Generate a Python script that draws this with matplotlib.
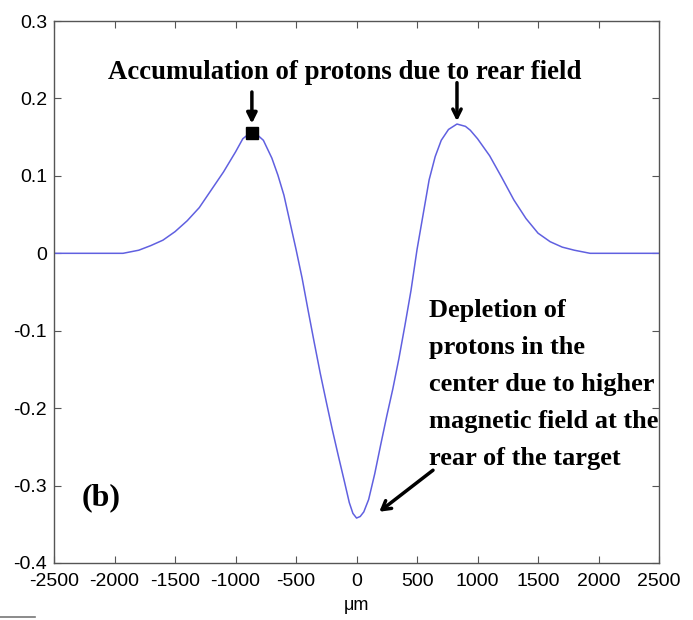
import matplotlib
matplotlib.use("Agg")
import matplotlib.pyplot as plt
from matplotlib.lines import Line2D

# profile (x in um)
x_um = [-2500, -2000, -1930, -1800, -1700, -1600, -1500, -1400, -1300, -1200,
        -1100, -1000, -940, -900, -865, -820, -770, -700, -650, -600,
        -550, -500, -450, -400, -350, -300, -250, -200, -150, -100,
        -60, -30, 0, 30, 60, 100, 150, 200, 250, 300,
        350, 400, 450, 500, 550, 600, 650, 700, 760, 830,
        900, 940, 1000, 1100, 1200, 1300, 1400, 1500, 1600, 1700,
        1800, 1930, 2000, 2500]
signal = [0.0, 0.0, 0.0, 0.004, 0.010, 0.017, 0.028, 0.042, 0.059, 0.082,
          0.105, 0.131, 0.148, 0.153, 0.156, 0.153, 0.146, 0.123, 0.101, 0.075,
          0.040, 0.005, -0.032, -0.074, -0.115, -0.155, -0.192, -0.228, -0.262, -0.295,
          -0.322, -0.336, -0.342, -0.340, -0.334, -0.318, -0.285, -0.247, -0.210, -0.175,
          -0.136, -0.093, -0.048, 0.005, 0.050, 0.095, 0.125, 0.146, 0.160, 0.167,
          0.164, 0.159, 0.148, 0.126, 0.098, 0.069, 0.045, 0.026, 0.015, 0.008,
          0.004, 0.0, 0.0, 0.0]

x_ticks = [-2500, -2000, -1500, -1000, -500, 0, 500, 1000, 1500, 2000, 2500]
y_ticks = [-0.4, -0.3, -0.2, -0.1, 0, 0.1, 0.2, 0.3]
y_tick_labels = ["-0.4", "-0.3", "-0.2", "-0.1", "0", "0.1", "0.2", "0.3"]

left_peak = (-865, 0.156)
right_peak = (830, 0.167)
trough = (0, -0.342)

SERIF = "Liberation Serif"
SANS = "Liberation Sans"


def main():
    fig = plt.figure(figsize=(6.93, 6.20), dpi=100)
    ax = fig.add_axes([0.078, 0.092, 0.873, 0.874])

    ax.plot(x_um, signal, color="#6060e0", lw=1.1)
    ax.plot(*left_peak, marker="s", ms=8, color="black")

    ax.set_xlim(-2500, 2500)
    ax.set_ylim(-0.4, 0.3)
    ax.set_xticks(x_ticks)
    ax.set_xticklabels([str(t) for t in x_ticks], fontfamily=SANS, fontsize=14)
    ax.set_yticks(y_ticks)
    ax.set_yticklabels(y_tick_labels, fontfamily=SANS, fontsize=14)
    ax.tick_params(direction="in", length=5, top=True, right=True, color="#555555")
    ax.tick_params(axis="x", pad=7)
    ax.tick_params(axis="y", pad=5)
    for s in ax.spines.values():
        s.set_color("#555555")
        s.set_linewidth(1.0)
    ax.set_xlabel("μm", fontfamily=SANS, fontsize=13, labelpad=5)

    ax.text(0.48, 0.905, "Accumulation of protons due to rear field", transform=ax.transAxes,
            ha="center", va="center", fontfamily=SERIF, fontweight="bold", fontsize=19.3)
    ax.annotate("", xy=(left_peak[0], left_peak[1] + 0.008), xytext=(left_peak[0], 0.212),
                arrowprops=dict(arrowstyle="-|>,head_length=0.6,head_width=0.3", color="black", lw=2.5))
    ax.annotate("", xy=right_peak, xytext=(right_peak[0], 0.224),
                arrowprops=dict(arrowstyle="->,head_length=0.6,head_width=0.3", color="black", lw=2.5))

    ax.text(0.62, 0.488, "Depletion of\nprotons in the\ncenter due to higher\nmagnetic field at the\nrear of the target",
            transform=ax.transAxes, ha="left", va="top", fontfamily=SERIF, fontweight="bold",
            fontsize=19, linespacing=1.78)
    ax.annotate("", xy=(trough[0] + 170, trough[1] + 0.006), xytext=(650, -0.278),
                arrowprops=dict(arrowstyle="->,head_length=0.6,head_width=0.35", color="black", lw=2.5))

    ax.text(0.045, 0.12, "(b)", transform=ax.transAxes, ha="left", va="center",
            fontfamily=SERIF, fontweight="bold", fontsize=23)

    fig.add_artist(Line2D([0.0, 0.05], [0.005, 0.005], color="#777777", lw=1.2))

    fig.savefig("out.png", dpi=100)
    plt.close(fig)


if __name__ == "__main__":
    main()
